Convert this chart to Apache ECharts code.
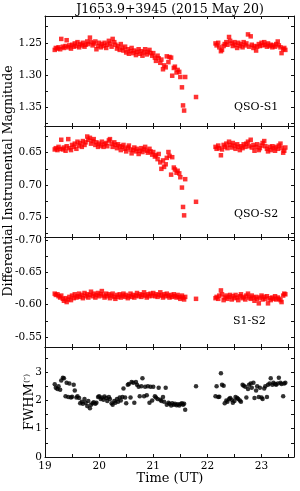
<!DOCTYPE html>
<html>
<head>
<meta charset="utf-8">
<script src="https://cdn.jsdelivr.net/npm/echarts@6/dist/echarts.min.js"></script>
<style>
html,body{margin:0;padding:0;background:#fff;}
#c{width:300px;height:491px;}
</style>
</head>
<body>
<div id="c"></div>
<script>
// Observation times (UT hours)
const times = [
19.18,19.20,19.23,19.25,19.28,19.30,19.33,19.35,19.38,19.40,
19.43,19.45,19.48,19.50,19.53,19.55,19.58,19.60,19.63,19.65,
19.68,19.70,19.73,19.75,19.78,19.80,19.83,19.85,19.88,19.90,
19.93,19.95,19.98,20.00,20.03,20.05,20.08,20.10,20.13,20.15,
20.18,20.20,20.23,20.25,20.28,20.30,20.33,20.35,20.38,20.40,
20.43,20.45,20.48,20.50,20.53,20.55,20.58,20.60,20.63,20.65,
20.68,20.70,20.73,20.75,20.78,20.80,20.83,20.85,20.88,20.90,
20.93,20.95,20.98,21.00,21.03,21.05,21.08,21.10,21.13,21.15,
21.18,21.20,21.23,21.25,21.28,21.30,21.33,21.35,21.38,21.40,
21.43,21.45,21.48,21.50,21.53,21.55,21.57,21.59,
21.79,
22.15,22.17,22.20,22.22,22.25,22.27,22.30,22.32,22.35,22.37,
22.40,22.42,22.45,22.47,22.50,22.52,22.55,22.57,22.60,22.62,
22.65,22.67,22.70,22.72,22.75,22.77,22.80,22.82,22.85,22.87,
22.90,22.92,22.95,22.97,23.00,23.02,23.05,23.07,23.10,23.12,
23.15,23.17,23.20,23.22,23.25,23.27,23.30,23.32,23.35,23.37,
23.40,23.42,23.44
];
// QSO-S1 differential magnitude
const qsoS1 = [
1.261,1.258,1.259,1.257,1.260,1.244,1.256,1.258,1.255,1.246,
1.257,1.254,1.259,1.253,1.256,1.251,1.255,1.249,1.257,1.252,
1.254,1.250,1.256,1.253,1.248,1.252,1.242,1.249,1.254,1.251,
1.248,1.260,1.255,1.250,1.257,1.252,1.255,1.250,1.258,1.253,
1.247,1.251,1.256,1.244,1.249,1.253,1.259,1.255,1.261,1.252,
1.258,1.262,1.256,1.265,1.260,1.267,1.263,1.258,1.266,1.262,
1.269,1.264,1.260,1.267,1.263,1.270,1.265,1.260,1.268,1.264,
1.261,1.266,1.270,1.266,1.273,1.278,1.270,1.274,1.281,1.276,
1.291,1.285,1.288,1.271,1.280,1.272,1.273,1.301,1.289,1.287,
1.296,1.292,1.295,1.303,1.319,1.347,1.355,1.303,
1.334,
1.251,1.254,1.250,1.257,1.263,1.261,1.255,1.252,1.249,1.253,
1.241,1.247,1.251,1.255,1.249,1.253,1.258,1.250,1.255,1.252,
1.257,1.249,1.254,1.251,1.237,1.256,1.240,1.253,1.258,1.255,
1.262,1.256,1.252,1.255,1.250,1.254,1.249,1.253,1.256,1.251,
1.255,1.253,1.257,1.254,1.256,1.252,1.248,1.254,1.257,1.266,
1.260,1.258,1.261
];
// QSO-S2 differential magnitude
const qsoS2 = [
0.645,0.643,0.646,0.641,0.644,0.630,0.645,0.642,0.647,0.640,
0.629,0.643,0.646,0.638,0.641,0.636,0.644,0.633,0.639,0.635,
0.641,0.632,0.638,0.634,0.625,0.630,0.627,0.636,0.632,0.629,
0.638,0.634,0.641,0.636,0.639,0.633,0.641,0.637,0.635,0.640,
0.631,0.629,0.636,0.641,0.634,0.638,0.643,0.637,0.640,0.646,
0.641,0.638,0.644,0.648,0.642,0.639,0.645,0.651,0.646,0.642,
0.648,0.644,0.652,0.647,0.643,0.649,0.645,0.641,0.647,0.650,
0.644,0.648,0.653,0.649,0.656,0.654,0.660,0.652,0.665,0.675,
0.662,0.672,0.668,0.658,0.649,0.655,0.684,0.657,0.673,0.676,
0.681,0.678,0.682,0.688,0.704,0.734,0.747,0.691,
0.726,
0.641,0.644,0.639,0.643,0.654,0.645,0.638,0.641,0.636,0.643,
0.633,0.638,0.642,0.635,0.639,0.644,0.637,0.641,0.646,0.640,
0.643,0.637,0.641,0.636,0.633,0.640,0.630,0.642,0.638,0.647,
0.641,0.637,0.646,0.643,0.639,0.635,0.632,0.640,0.644,0.648,
0.641,0.646,0.640,0.643,0.647,0.641,0.644,0.639,0.636,0.643,
0.650,0.647,0.642
];
// S1-S2 differential magnitude
const s1s2 = [
-0.617,-0.615,-0.616,-0.613,-0.611,-0.614,-0.609,-0.606,-0.610,-0.604,
-0.608,-0.612,-0.607,-0.614,-0.610,-0.616,-0.611,-0.613,-0.617,-0.612,
-0.615,-0.610,-0.618,-0.613,-0.616,-0.611,-0.615,-0.620,-0.613,-0.617,
-0.611,-0.615,-0.618,-0.613,-0.616,-0.621,-0.614,-0.611,-0.617,-0.613,
-0.616,-0.610,-0.614,-0.617,-0.612,-0.609,-0.615,-0.612,-0.616,-0.611,
-0.614,-0.617,-0.612,-0.615,-0.610,-0.613,-0.617,-0.612,-0.615,-0.611,
-0.614,-0.618,-0.613,-0.616,-0.612,-0.615,-0.619,-0.614,-0.611,-0.616,
-0.613,-0.617,-0.614,-0.618,-0.613,-0.616,-0.612,-0.615,-0.619,-0.614,
-0.611,-0.616,-0.613,-0.617,-0.614,-0.611,-0.615,-0.612,-0.616,-0.613,
-0.611,-0.615,-0.612,-0.609,-0.614,-0.611,-0.608,-0.612,
-0.609,
-0.610,-0.612,-0.609,-0.614,-0.622,-0.616,-0.607,-0.611,-0.614,-0.609,
-0.612,-0.615,-0.608,-0.613,-0.610,-0.615,-0.611,-0.607,-0.613,-0.616,
-0.610,-0.612,-0.608,-0.614,-0.617,-0.611,-0.609,-0.614,-0.611,-0.606,
-0.612,-0.609,-0.602,-0.611,-0.614,-0.608,-0.612,-0.609,-0.613,-0.602,
-0.610,-0.607,-0.611,-0.609,-0.613,-0.608,-0.611,-0.609,-0.607,-0.604,
-0.614,-0.617,-0.616
];
// FWHM (arcsec)
const fwhm = [
2.57,2.45,2.40,2.50,2.38,2.70,2.80,2.78,2.15,2.62,
2.12,2.60,2.10,2.13,2.55,2.35,2.10,2.15,2.08,1.90,
1.95,1.88,2.05,1.92,1.80,1.98,1.72,1.85,1.90,1.93,
1.88,1.92,2.12,2.15,2.05,2.10,2.02,2.14,2.08,1.98,
2.12,2.05,1.90,1.85,1.98,1.92,2.05,1.95,2.10,2.00,
2.12,2.42,2.10,1.90,2.55,2.58,2.10,2.65,2.62,1.92,
2.65,2.55,2.48,2.15,2.50,2.78,2.15,2.48,2.18,2.50,
1.92,2.48,2.00,2.48,2.15,2.10,2.05,2.45,2.02,1.98,
2.12,1.95,2.45,1.85,1.92,1.88,1.82,1.90,1.85,1.88,
1.83,1.86,1.82,1.87,1.90,1.85,1.88,1.67,
2.50,
2.15,2.50,2.12,2.13,2.96,2.55,2.52,1.90,2.00,1.95,
2.05,2.08,2.02,1.92,1.98,2.12,2.08,2.05,2.00,1.95,
2.55,2.52,2.48,2.10,2.40,2.55,2.60,2.45,2.62,2.08,
2.35,2.50,2.12,2.45,2.10,2.05,2.42,2.50,2.12,2.55,
2.60,2.78,2.55,2.62,2.58,2.55,2.60,2.80,2.62,2.58,
2.15,2.60,2.62
];

// Tick values
const xTickVals = [19,19.5,20,20.5,21,21.5,22,22.5,23,23.5];
const xLabelVals = [19,20,21,22,23];
const y1Ticks = [1.225,1.25,1.275,1.30,1.325,1.35,1.375];
const y1Labels = [1.25,1.30,1.35];
const y2Ticks = [0.625,0.65,0.675,0.70,0.725,0.75,0.775];
const y2Labels = [0.65,0.70,0.75];
const y3Ticks = [-0.70,-0.675,-0.65,-0.625,-0.60,-0.575,-0.55];
const y3Labels = [-0.70,-0.65,-0.60,-0.55];
const y4Ticks = [0,0.5,1,1.5,2,2.5,3,3.5];
const y4Labels = [0,1,2,3];

const FONT = 'DejaVu Serif';
const panels = [
  {top:16,  height:110, min:1.2085, max:1.3789, inverse:true,  ticks:y1Ticks, labels:y1Labels, dec:2, vals:qsoS1, color:'#ff0000', symbol:'rect'},
  {top:126, height:111, min:0.6087, max:0.7805, inverse:true,  ticks:y2Ticks, labels:y2Labels, dec:2, vals:qsoS2, color:'#ff0000', symbol:'rect'},
  {top:237, height:110, min:-0.7046,max:-0.5345,inverse:true,  ticks:y3Ticks, labels:y3Labels, dec:2, vals:s1s2,  color:'#ff0000', symbol:'rect'},
  {top:347, height:110, min:0,      max:3.886,  inverse:false, ticks:y4Ticks, labels:y4Labels, dec:0, vals:fwhm,  color:'#000000', symbol:'circle'}
];

const line = {show:true, onZero:false, lineStyle:{color:'#111', width:1}};
const grids = [], xAxes = [], yAxes = [], series = [];
panels.forEach((p, i) => {
  grids.push({left:45, width:249, top:p.top, height:p.height, containLabel:false});
  ['bottom','top'].forEach((pos, k) => {
    xAxes.push({
      type:'value', gridIndex:i, position:pos, min:19, max:23.6,
      axisLine:line,
      axisTick:{show:true, inside:true, length:3, customValues:xTickVals, lineStyle:{color:'#111'}},
      axisLabel:{show:(i===3 && k===0), customValues:xLabelVals, fontFamily:FONT, fontSize:10.5, color:'#000', margin:4},
      splitLine:{show:false}
    });
  });
  ['left','right'].forEach((pos, k) => {
    yAxes.push({
      type:'value', gridIndex:i, position:pos, min:p.min, max:p.max, inverse:p.inverse,
      axisLine:line,
      axisTick:{show:true, inside:true, length:3, customValues:p.ticks, lineStyle:{color:'#111'}},
      axisLabel:{show:k===0, customValues:p.labels, fontFamily:FONT, fontSize:10.5, color:'#000', margin:3,
        formatter:(v)=>Number(v).toFixed(p.dec)},
      splitLine:{show:false}
    });
  });
  series.push({
    type:'scatter', xAxisIndex:2*i, yAxisIndex:2*i,
    symbol:p.symbol, symbolSize:4.5,
    itemStyle:{color:p.color},
    data: times.map((t, j) => [t, p.vals[j]]),
    silent:true
  });
});

const txt = (x, y, text, size, extra) => Object.assign({
  type:'text', x:x, y:y,
  style:{text:text, fontFamily:FONT, fontSize:size, fill:'#000', textAlign:'center', textVerticalAlign:'middle'}
}, extra || {});

const graphic = [
  txt(170, 10, 'J1653.9+3945 (2015 May 20)', 12.5),
  txt(170, 479, 'Time (UT)', 13),
  txt(9, 181, 'Differential Instrumental Magnitude', 12.5, {rotation:Math.PI/2}),
  {type:'text', x:30, y:402, rotation:Math.PI/2,
   style:{text:'{a|FWHM}{b|(″)}', textAlign:'center', textVerticalAlign:'middle', fill:'#000',
     rich:{a:{fontFamily:FONT, fontSize:13, lineHeight:15}, b:{fontFamily:FONT, fontSize:8, lineHeight:15, verticalAlign:'top'}}}},
  {type:'text', x:234, y:107.5, style:{text:'QSO-S1', fontFamily:FONT, fontSize:11, fill:'#000', textAlign:'left', textVerticalAlign:'middle'}},
  {type:'text', x:234, y:214, style:{text:'QSO-S2', fontFamily:FONT, fontSize:11, fill:'#000', textAlign:'left', textVerticalAlign:'middle'}},
  {type:'text', x:233, y:321.5, style:{text:'S1-S2', fontFamily:FONT, fontSize:11, fill:'#000', textAlign:'left', textVerticalAlign:'middle'}}
];

const chart = echarts.init(document.getElementById('c'), null, {renderer:'canvas'});
chart.setOption({
  animation:false,
  backgroundColor:'#fff',
  grid:grids, xAxis:xAxes, yAxis:yAxes, series:series, graphic:graphic
});
</script>
</body>
</html>
